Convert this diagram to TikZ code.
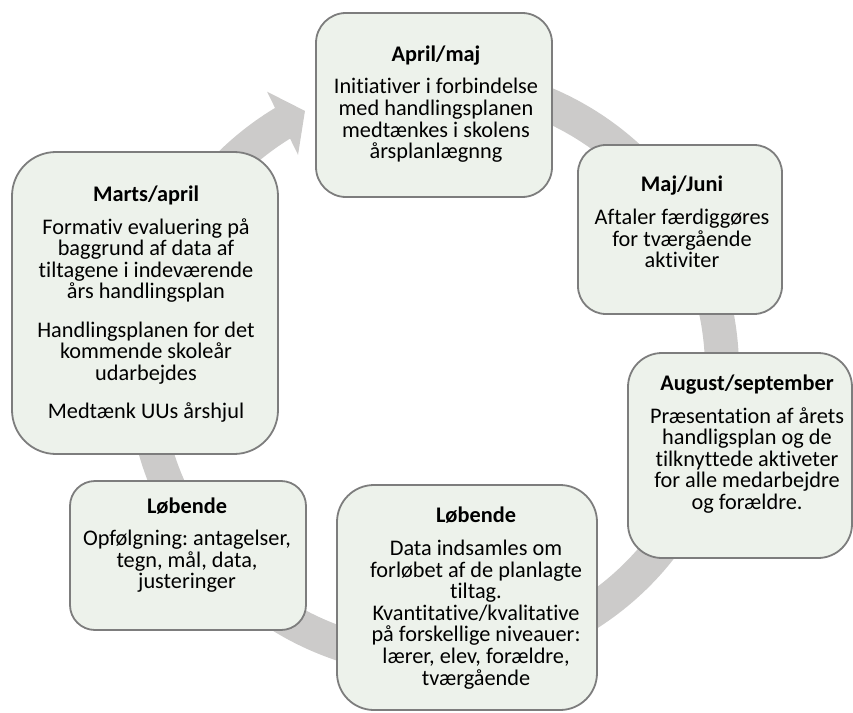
\documentclass[tikz,border=0pt]{standalone}
\usepackage{fontspec}
\setmainfont{Carlito}[Ligatures=NoCommon]
\lineskiplimit=-100pt
\frenchspacing
\definecolor{ringcol}{RGB}{204,203,202}
\definecolor{boxfill}{RGB}{237,242,235}
\definecolor{boxline}{RGB}{125,125,125}
\begin{document}
\begin{tikzpicture}[x=1bp,y=-1bp,
  cbox/.style={draw=boxline, line width=1.8bp, fill=boxfill, rounded corners=#1, inner sep=0pt},
  ctext/.style={align=center, inner sep=0pt, font=\fontsize{22.3bp}{21.6bp}\selectfont\frenchspacing}]
\useasboundingbox (0,0) rectangle (853,713);
% ring
\begin{scope}[shift={(433,370)}, yscale=-1]
  \draw[ringcol, line width=34bp] (100:289) arc[start angle=100, end angle=-239, radius=289];
  \fill[ringcol] (120.8:324) -- (116.3:289) -- (122.1:254) -- cycle;
\end{scope}
% boxes
\node[cbox=30bp, minimum width=236bp, minimum height=184bp] (aprbox) at (434,105) {};
\node[cbox=28bp, minimum width=204bp, minimum height=169bp] (majbox) at (680,229.5) {};
\node[cbox=34bp, minimum width=224bp, minimum height=205bp] (augbox) at (740,455.5) {};
\node[cbox=37bp, minimum width=260bp, minimum height=225bp] (lobbbox) at (467,597.5) {};
\node[cbox=25bp, minimum width=236bp, minimum height=149bp] (lobabox) at (188,555.5) {};
\node[cbox=44bp, minimum width=266bp, minimum height=302bp] (marbox) at (145,303) {};
% texts
\node[ctext] (aprtxt) at (436,104) {\textbf{April/maj}\\[11bp]Initiativer i forbindelse\\med handlingsplanen\\medtænkes i skolens\\årsplanlægnng};
\node[ctext] (majtxt) at (682,222) {\textbf{Maj/Juni}\\[11bp]Aftaler færdiggøres\\for tværgående\\aktiviter};
\node[ctext] (augtxt) at (747,444) {\textbf{August/september}\\[11bp]Præsentation af årets\\handligsplan og de\\tilknyttede aktiveter\\for alle medarbejdre\\og forældre.};
\node[ctext] (lobbtxt) at (476,598) {\textbf{Løbende}\\[11bp]Data indsamles om\\forløbet af de planlagte\\tiltag.\\Kvantitative/kvalitative\\på forskellige niveauer:\\lærer, elev, forældre,\\tværgående};
\node[ctext] (lobatxt) at (187,545) {\textbf{Løbende}\\[11bp]Opfølgning: antagelser,\\tegn, mål, data,\\justeringer};
\node[ctext] (martxt) at (146,304) {\textbf{Marts/april}\\[11bp]Formativ evaluering på\\baggrund af data af\\tiltagene i indeværende\\års handlingsplan\\[16.5bp]Handlingsplanen for det\\kommende skoleår\\udarbejdes\\[16.5bp]Medtænk UUs årshjul};
\end{tikzpicture}
\end{document}
